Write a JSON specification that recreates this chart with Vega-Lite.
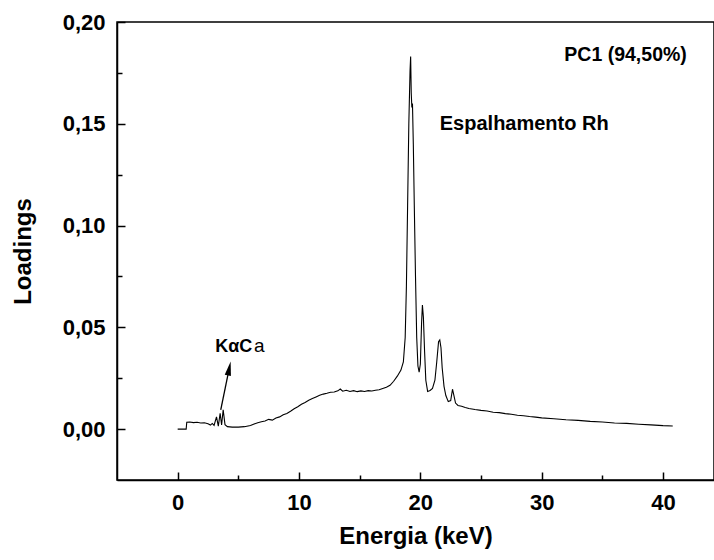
{
  "$schema": "https://vega.github.io/schema/vega-lite/v6.json",
  "autosize": "none",
  "width": 597,
  "height": 458,
  "padding": {"left": 117, "top": 22, "right": 0, "bottom": 80},
  "background": "white",
  "config": {
    "view": {"stroke": "black", "strokeWidth": 1.5},
    "font": "Liberation Sans",
    "axis": {
      "domainColor": "black",
      "domainWidth": 1.5,
      "tickColor": "black",
      "tickWidth": 1.5,
      "grid": false,
      "labelFont": "Liberation Sans",
      "labelFontSize": 22,
      "labelFontWeight": "bold",
      "labelColor": "black",
      "titleFont": "Liberation Sans",
      "titleFontSize": 24,
      "titleFontWeight": "bold",
      "titleColor": "black"
    }
  },
  "datasets": {
    "spectrum": [
      {"e": 0.0, "v": 0.0}, {"e": 0.7, "v": 0.0}, {"e": 0.75, "v": 0.0034}, {"e": 1.0, "v": 0.0035},
      {"e": 1.3, "v": 0.0032}, {"e": 1.6, "v": 0.0034}, {"e": 1.9, "v": 0.0030}, {"e": 2.2, "v": 0.0031},
      {"e": 2.5, "v": 0.0026}, {"e": 2.7, "v": 0.0020}, {"e": 2.85, "v": 0.0028}, {"e": 3.0, "v": 0.0018},
      {"e": 3.2, "v": 0.0060}, {"e": 3.35, "v": 0.0015}, {"e": 3.5, "v": 0.0078}, {"e": 3.62, "v": 0.0020},
      {"e": 3.75, "v": 0.0095}, {"e": 3.9, "v": 0.0022}, {"e": 4.1, "v": 0.0012}, {"e": 4.5, "v": 0.0010},
      {"e": 5.0, "v": 0.0010}, {"e": 5.5, "v": 0.0012}, {"e": 6.0, "v": 0.0018}, {"e": 6.3, "v": 0.0025},
      {"e": 6.6, "v": 0.0031}, {"e": 6.9, "v": 0.0036}, {"e": 7.2, "v": 0.0040}, {"e": 7.5, "v": 0.0048},
      {"e": 7.8, "v": 0.0044}, {"e": 8.1, "v": 0.0055}, {"e": 8.4, "v": 0.0060}, {"e": 8.7, "v": 0.0070},
      {"e": 9.0, "v": 0.0077}, {"e": 9.3, "v": 0.0088}, {"e": 9.6, "v": 0.0100}, {"e": 9.9, "v": 0.0110},
      {"e": 10.2, "v": 0.0122}, {"e": 10.5, "v": 0.0131}, {"e": 10.8, "v": 0.0142}, {"e": 11.1, "v": 0.0150},
      {"e": 11.4, "v": 0.0158}, {"e": 11.7, "v": 0.0166}, {"e": 12.0, "v": 0.0172}, {"e": 12.3, "v": 0.0176},
      {"e": 12.6, "v": 0.0181}, {"e": 12.9, "v": 0.0182}, {"e": 13.2, "v": 0.0188}, {"e": 13.4, "v": 0.0197},
      {"e": 13.6, "v": 0.0186}, {"e": 13.9, "v": 0.0191}, {"e": 14.2, "v": 0.0185}, {"e": 14.5, "v": 0.0189},
      {"e": 14.8, "v": 0.0184}, {"e": 15.1, "v": 0.0188}, {"e": 15.4, "v": 0.0185}, {"e": 15.7, "v": 0.0189},
      {"e": 16.0, "v": 0.0187}, {"e": 16.3, "v": 0.0191}, {"e": 16.6, "v": 0.0193}, {"e": 16.9, "v": 0.0200},
      {"e": 17.2, "v": 0.0206}, {"e": 17.5, "v": 0.0215}, {"e": 17.8, "v": 0.0235}, {"e": 18.1, "v": 0.0260},
      {"e": 18.4, "v": 0.0290}, {"e": 18.6, "v": 0.0330}, {"e": 18.75, "v": 0.045}, {"e": 18.85, "v": 0.070},
      {"e": 18.95, "v": 0.110}, {"e": 19.05, "v": 0.150}, {"e": 19.15, "v": 0.176}, {"e": 19.2, "v": 0.183},
      {"e": 19.25, "v": 0.165}, {"e": 19.3, "v": 0.158}, {"e": 19.35, "v": 0.160}, {"e": 19.42, "v": 0.140},
      {"e": 19.5, "v": 0.110}, {"e": 19.6, "v": 0.075}, {"e": 19.7, "v": 0.045}, {"e": 19.8, "v": 0.031},
      {"e": 19.9, "v": 0.028}, {"e": 20.0, "v": 0.032}, {"e": 20.1, "v": 0.052}, {"e": 20.17, "v": 0.061},
      {"e": 20.25, "v": 0.055}, {"e": 20.35, "v": 0.038}, {"e": 20.45, "v": 0.024}, {"e": 20.6, "v": 0.0185},
      {"e": 20.8, "v": 0.0190}, {"e": 21.0, "v": 0.0200}, {"e": 21.2, "v": 0.0240}, {"e": 21.35, "v": 0.0330},
      {"e": 21.5, "v": 0.0430}, {"e": 21.6, "v": 0.0438}, {"e": 21.7, "v": 0.0400}, {"e": 21.8, "v": 0.0300},
      {"e": 21.95, "v": 0.0210}, {"e": 22.1, "v": 0.0165}, {"e": 22.3, "v": 0.0135}, {"e": 22.5, "v": 0.0140},
      {"e": 22.65, "v": 0.0196}, {"e": 22.75, "v": 0.0170}, {"e": 22.9, "v": 0.0128}, {"e": 23.1, "v": 0.0116},
      {"e": 23.4, "v": 0.0112}, {"e": 23.7, "v": 0.0106}, {"e": 24.0, "v": 0.0101}, {"e": 24.5, "v": 0.0096},
      {"e": 25.0, "v": 0.0092}, {"e": 25.5, "v": 0.0089}, {"e": 26.0, "v": 0.0083}, {"e": 26.5, "v": 0.0081},
      {"e": 27.0, "v": 0.0076}, {"e": 27.5, "v": 0.0073}, {"e": 28.0, "v": 0.0068}, {"e": 28.5, "v": 0.0066},
      {"e": 29.0, "v": 0.0062}, {"e": 29.5, "v": 0.0059}, {"e": 30.0, "v": 0.0055}, {"e": 31.0, "v": 0.0051},
      {"e": 32.0, "v": 0.0046}, {"e": 33.0, "v": 0.0043}, {"e": 34.0, "v": 0.0038}, {"e": 35.0, "v": 0.0035},
      {"e": 36.0, "v": 0.0030}, {"e": 37.0, "v": 0.0028}, {"e": 38.0, "v": 0.0024}, {"e": 39.0, "v": 0.0021},
      {"e": 40.0, "v": 0.0017}, {"e": 40.8, "v": 0.0015}
    ],
    "arrow": [{"e": 3.55, "v": 0.0095, "e2": 4.25, "v2": 0.0298}],
    "head": [{"e": 4.25, "v": 0.0298}],
    "notes": [
      {"label": "PC1 (94,50%)", "e": 41.96, "v": 0.1837, "kind": "pc"},
      {"label": "Espalhamento Rh", "e": 21.6, "v": 0.1469, "kind": "esp"},
      {"label": "KαC", "e": 3.1, "v": 0.0378, "kind": "ka"},
      {"label": "a", "e": 6.3, "v": 0.0378, "kind": "ca"}
    ]
  },
  "encoding": {
    "x": {
      "field": "e", "type": "quantitative",
      "scale": {"domain": [-5, 44.2], "nice": false, "zero": false},
      "axis": {
        "title": "Energia (keV)",
        "values": [0, 5, 10, 15, 20, 25, 30, 35, 40],
        "labelExpr": "datum.value % 10 === 0 ? format(datum.value, 'd') : ''",
        "tickSize": {"condition": {"test": "datum.value % 10 === 0", "value": -8}, "value": -5},
        "labelPadding": 20,
        "titlePadding": 11
      }
    },
    "y": {
      "field": "v", "type": "quantitative",
      "scale": {"domain": [-0.025, 0.2], "nice": false, "zero": false},
      "axis": {
        "title": "Loadings",
        "values": [0, 0.025, 0.05, 0.075, 0.1, 0.125, 0.15, 0.175, 0.2],
        "labelExpr": "abs(datum.value * 20 - round(datum.value * 20)) < 0.001 ? replace(format(datum.value, '.2f'), '.', ',') : ''",
        "tickSize": {"condition": {"test": "abs(datum.value * 20 - round(datum.value * 20)) < 0.001", "value": -8}, "value": -5},
        "labelPadding": 20,
        "titlePadding": 27
      }
    }
  },
  "layer": [
    {
      "data": {"name": "spectrum"},
      "mark": {"type": "line", "color": "black", "strokeWidth": 1.1, "clip": true}
    },
    {
      "data": {"name": "arrow"},
      "mark": {"type": "rule", "color": "black", "strokeWidth": 1.3},
      "encoding": {"x2": {"field": "e2"}, "y2": {"field": "v2"}}
    },
    {
      "data": {"name": "head"},
      "mark": {"type": "point", "shape": "M0,-1L0.45,1L-0.45,1Z", "filled": true, "color": "black", "opacity": 1, "size": 196, "angle": 11.7}
    },
    {
      "data": {"name": "notes"},
      "transform": [{"filter": "datum.kind === 'pc'"}],
      "mark": {"type": "text", "align": "right", "baseline": "middle", "fontSize": 19.5, "fontWeight": "bold", "color": "black"},
      "encoding": {"text": {"field": "label"}}
    },
    {
      "data": {"name": "notes"},
      "transform": [{"filter": "datum.kind === 'esp'"}],
      "mark": {"type": "text", "align": "left", "baseline": "alphabetic", "fontSize": 20, "fontWeight": "bold", "color": "black"},
      "encoding": {"text": {"field": "label"}}
    },
    {
      "data": {"name": "notes"},
      "transform": [{"filter": "datum.kind === 'ka'"}],
      "mark": {"type": "text", "align": "left", "baseline": "alphabetic", "fontSize": 18, "fontWeight": "bold", "color": "black"},
      "encoding": {"text": {"field": "label"}}
    },
    {
      "data": {"name": "notes"},
      "transform": [{"filter": "datum.kind === 'ca'"}],
      "mark": {"type": "text", "align": "left", "baseline": "alphabetic", "fontSize": 19, "fontWeight": "normal", "color": "black"},
      "encoding": {"text": {"field": "label"}}
    }
  ]
}
